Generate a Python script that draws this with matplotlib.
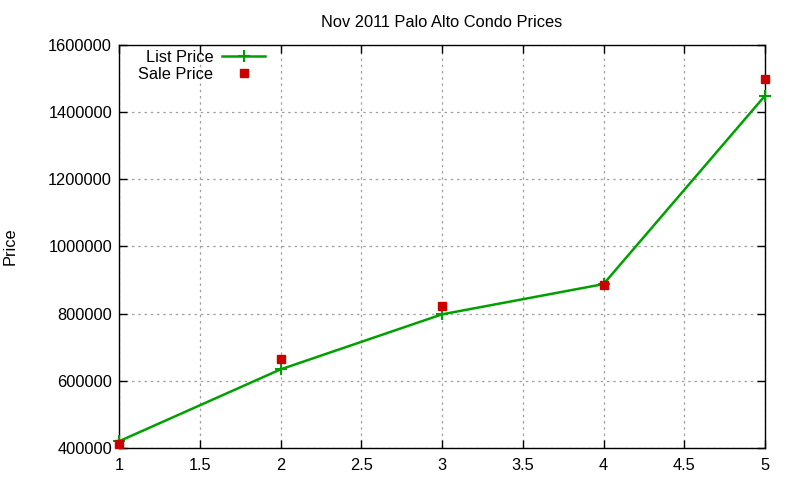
import matplotlib
matplotlib.use("Agg")
import matplotlib.pyplot as plt

plt.rcParams['font.family'] = ['Liberation Sans', 'DejaVu Sans']

# data
x = [1, 2, 3, 4, 5]
list_price = [420000, 634000, 798000, 888000, 1449000]
sale_price = [412000, 665000, 823000, 885000, 1499000]

fs = 11.8

fig = plt.figure(figsize=(8, 4.8), dpi=100)
ax = fig.add_axes([119 / 800, 32 / 480, 646 / 800, 403 / 480])

ax.plot(x, list_price, color='#00a000', lw=1.8, marker='+', ms=9, mew=1.5,
        label='List Price', clip_on=False, zorder=3)
ax.plot(x, sale_price, ls='none', color='#cc0000', marker='s', ms=6,
        label='Sale Price', clip_on=False, zorder=4)

ax.set_xlim(1, 5)
ax.set_ylim(400000, 1600000)
ax.set_xticks([1, 1.5, 2, 2.5, 3, 3.5, 4, 4.5, 5])
ax.set_xticklabels(['1', '1.5', '2', '2.5', '3', '3.5', '4', '4.5', '5'])
ax.set_yticks(range(400000, 1600001, 200000))
ax.set_yticklabels([str(v) for v in range(400000, 1600001, 200000)])

ax.grid(True, color='#a0a0a0', ls=(0, (2, 3)), lw=0.9)
ax.tick_params(direction='in', length=6, width=1, top=True, right=True,
               labelsize=fs, pad=5)
ax.tick_params(axis='x', pad=7)
for s in ax.spines.values():
    s.set_linewidth(1)

ax.set_title('Nov 2011 Palo Alto Condo Prices', fontsize=fs, pad=13)
ax.set_ylabel('Price', fontsize=fs, labelpad=22)

leg = ax.legend(loc='upper left', bbox_to_anchor=(0.02, 1.004), markerfirst=False,
                frameon=False, fontsize=fs, handlelength=2.6, handletextpad=0.55,
                labelspacing=0.12, borderaxespad=0.0)
for t in leg.get_texts():
    t.set_ha('right')
leg._legend_box.align = 'right'

fig.savefig('out.png', dpi=100)
